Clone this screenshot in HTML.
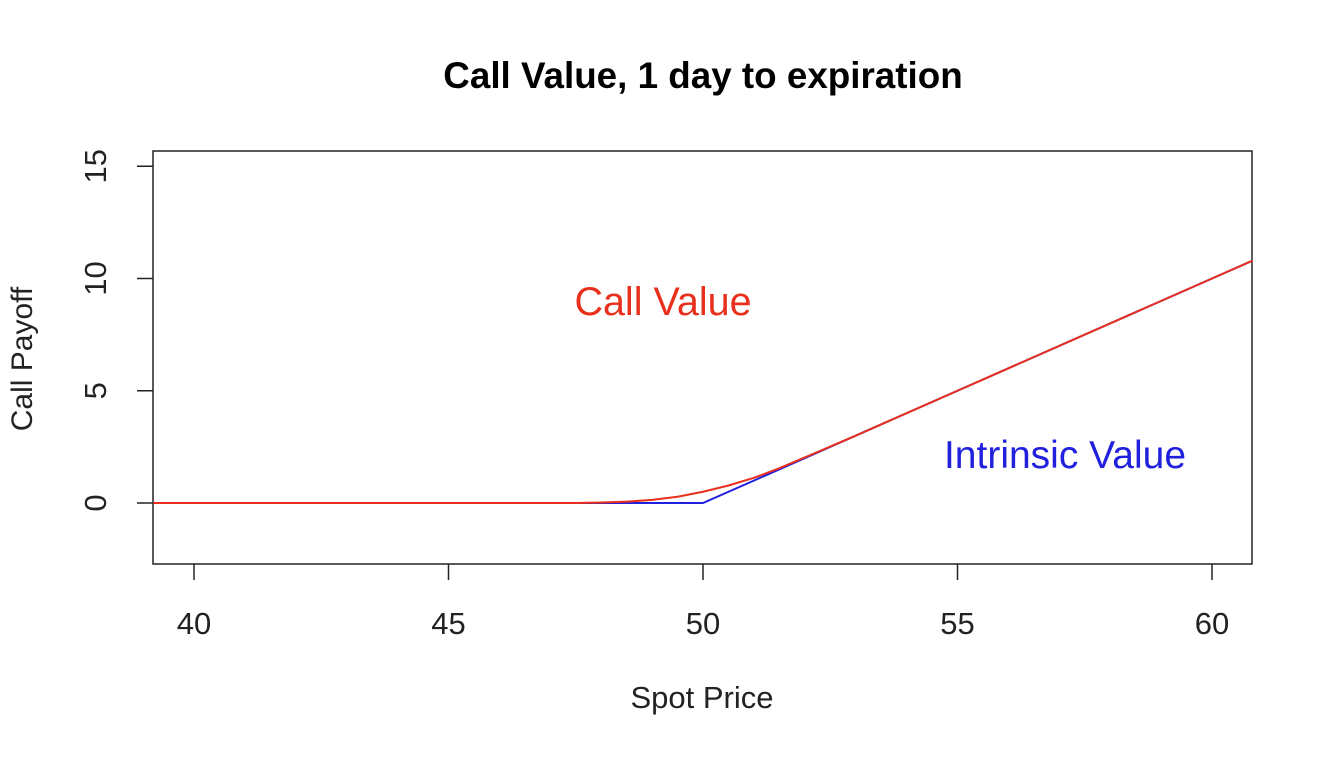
<!DOCTYPE html>
<html><head><meta charset="utf-8"><style>
body{margin:0;background:#fff;}
svg text{font-family:"Liberation Sans",sans-serif;}
</style></head><body>
<svg width="1326" height="778" xmlns="http://www.w3.org/2000/svg">
<text x="703" y="88" text-anchor="middle" font-size="36.8" font-weight="bold">Call Value, 1 day to expiration</text>
<rect x="153" y="151" width="1099" height="413" fill="none" stroke="#222" stroke-width="1.5"/>
<g id="xaxis"></g>
<g id="yaxis"></g>
<text x="702" y="708" text-anchor="middle" font-size="31" fill="#222">Spot Price</text>
<text transform="translate(32,359) rotate(-90)" text-anchor="middle" font-size="30" fill="#222">Call Payoff</text>
<g id="series"></g>
<text x="663" y="315" text-anchor="middle" font-size="39.5" fill="#e8301c">Call Value</text>
<text x="1065" y="468" text-anchor="middle" font-size="39" fill="#2020dd">Intrinsic Value</text>
</svg>
<script>
const xTicks=[40,45,50,55,60];
const yTicks=[0,5,10,15];
const spot=[39.2,45,47.5,48,48.5,49,49.5,50,50.5,51,51.5,52,53,54,55,60,60.8];
const callValue=[0,0,0,0.02,0.06,0.14,0.28,0.5,0.78,1.12,1.55,2.03,3.0,4.0,5.0,10,10.8];
const intrinsicX=[39.2,50,60.8];
const intrinsicY=[0,0,10.8];
const NS='http://www.w3.org/2000/svg';
const xs=v=>194+(v-40)*50.9;
const ys=v=>503-v*22.45;
const xa=document.getElementById('xaxis'),ya=document.getElementById('yaxis'),se=document.getElementById('series');
function mk(t,a){const e=document.createElementNS(NS,t);for(const k in a)e.setAttribute(k,a[k]);return e;}
xTicks.forEach(t=>{
 const l=mk('line',{x1:xs(t),x2:xs(t),y1:564,y2:580,stroke:'#222','stroke-width':1.5});
 
 
 xa.appendChild(l);
 const tx=mk('text',{x:xs(t),y:634,'text-anchor':'middle','font-size':31,fill:'#222'});
 
 
 tx.textContent=t;xa.appendChild(tx);
});
yTicks.forEach(t=>{
 const l=mk('line',{x1:137,x2:153,y1:ys(t),y2:ys(t),stroke:'#222','stroke-width':1.5});
 
 
 ya.appendChild(l);
 const tx=mk('text',{transform:`translate(106,${ys(t)}) rotate(-90)`,'text-anchor':'middle','font-size':31,fill:'#222'});
 
 
 tx.textContent=t;ya.appendChild(tx);
});
const p1=mk('polyline',{points:intrinsicX.map((x,i)=>xs(x)+','+ys(intrinsicY[i])).join(' '),fill:'none',stroke:'#2020dd','stroke-width':2});


se.appendChild(p1);
const p2=mk('polyline',{points:spot.map((x,i)=>xs(x)+','+ys(callValue[i])).join(' '),fill:'none',stroke:'#e8301c','stroke-width':2});


se.appendChild(p2);
</script>
</body></html>
